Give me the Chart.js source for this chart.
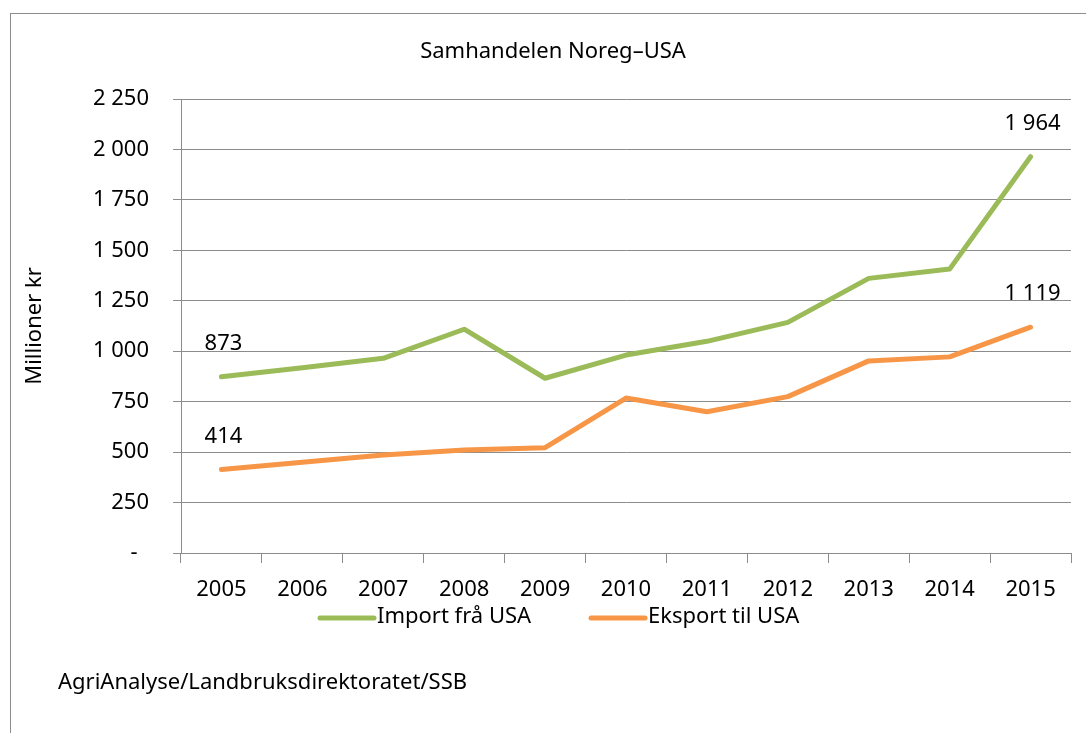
<!DOCTYPE html>
<html>
<head>
<meta charset="utf-8">
<script src="https://cdn.jsdelivr.net/npm/chart.js@4.4.1/dist/chart.umd.min.js"></script>
<style>
  body { margin: 0; background: #fff; }
  canvas { display: block; }
</style>
</head>
<body>
<canvas id="chart" width="1086" height="733"></canvas>
<script>
const years = ["2005", "2006", "2007", "2008", "2009", "2010", "2011", "2012", "2013", "2014", "2015"];
const importValues = [873, 918, 965, 1109, 866, 981, 1049, 1143, 1361, 1407, 1964];
const exportValues = [414, 450, 486, 510, 522, 768, 700, 775, 952, 972, 1119];
const seriesNames = ["Import frå USA", "Eksport til USA"];
const seriesColors = ["#9BBB59", "#F79646"];
const yTicks = [0, 250, 500, 750, 1000, 1250, 1500, 1750, 2000, 2250];

const FONT = "'Noto Sans', sans-serif";
const GRID = "#8c8c8c";

const formatNumber = (value) => {
  if (value === 0) return "-  ";
  return String(value).replace(/\B(?=(\d{3})+(?!\d))/g, " ");
};

// frame, title, axis title, legend, source and the end labels
const extras = {
  id: "extras",
  beforeDraw(chart) {
    const ctx = chart.ctx;
    ctx.save();
    ctx.fillStyle = "#fff";
    ctx.fillRect(0, 0, chart.width, chart.height);
    ctx.strokeStyle = "#8c8c8c";
    ctx.lineWidth = 1;
    ctx.strokeRect(10.5, 13.5, 1200, 900);
    ctx.restore();
  },
  afterDraw(chart) {
    const ctx = chart.ctx;
    const area = chart.chartArea;
    ctx.save();
    ctx.fillStyle = "#000";

    ctx.font = "22px " + FONT;
    ctx.textAlign = "center";
    ctx.textBaseline = "middle";
    ctx.fillText("Samhandelen Noreg\u2013USA", 553, 52);

    ctx.save();
    ctx.translate(35, (area.top + area.bottom) / 2);
    ctx.rotate(-Math.PI / 2);
    ctx.fillText("Millioner kr", 0, 0);
    ctx.restore();

    // labels on first and last points
    chart.data.datasets.forEach((ds, i) => {
      const points = chart.getDatasetMeta(i).data;
      [0, points.length - 1].forEach(j => {
        ctx.fillText(formatNumber(ds.data[j]), points[j].x + 2, points[j].y - 33);
      });
    });

    // legend
    const legendItems = [{ x: 320, textX: 377 }, { x: 591, textX: 648 }];
    ctx.textAlign = "left";
    chart.data.datasets.forEach((ds, i) => {
      const item = legendItems[i];
      ctx.strokeStyle = ds.borderColor;
      ctx.lineWidth = 5;
      ctx.lineCap = "round";
      ctx.beginPath();
      ctx.moveTo(item.x, 618);
      ctx.lineTo(item.textX - 3, 618);
      ctx.stroke();
      ctx.fillText(ds.label, item.textX, 617);
    });

    ctx.fillText("AgriAnalyse/Landbruksdirektoratet/SSB", 58, 683);
    ctx.restore();
  }
};

new Chart(document.getElementById("chart"), {
  type: "line",
  data: {
    labels: years,
    datasets: [
      { label: seriesNames[0], data: importValues, borderColor: seriesColors[0] },
      { label: seriesNames[1], data: exportValues, borderColor: seriesColors[1] }
    ].map(ds => ({ ...ds, borderWidth: 5, pointRadius: 0, tension: 0, borderCapStyle: "round", borderJoinStyle: "round" }))
  },
  options: {
    responsive: false,
    animation: false,
    layout: { padding: { left: 0, top: 99, right: 15, bottom: 0 } },
    plugins: {
      legend: { display: false },
      tooltip: { enabled: false }
    },
    scales: {
      x: {
        offset: true,
        afterFit(scale) { scale.height = 180; },
        grid: { offset: true, drawOnChartArea: false, drawTicks: true, tickLength: 10, color: GRID, lineWidth: 1 },
        border: { color: GRID, width: 1 },
        ticks: { color: "#000", font: { family: FONT, size: 22 }, padding: 14, maxRotation: 0, autoSkip: false }
      },
      y: {
        min: 0,
        max: 2250,
        afterFit(scale) { scale.width = 181; },
        afterBuildTicks(scale) { scale.ticks = yTicks.map(v => ({ value: v })); },
        grid: { color: GRID, lineWidth: 1, tickLength: 8 },
        border: { color: GRID, width: 1 },
        ticks: { color: "#000", font: { family: FONT, size: 22 }, padding: 24, callback: v => formatNumber(v) }
      }
    }
  },
  plugins: [extras]
});
</script>
</body>
</html>
